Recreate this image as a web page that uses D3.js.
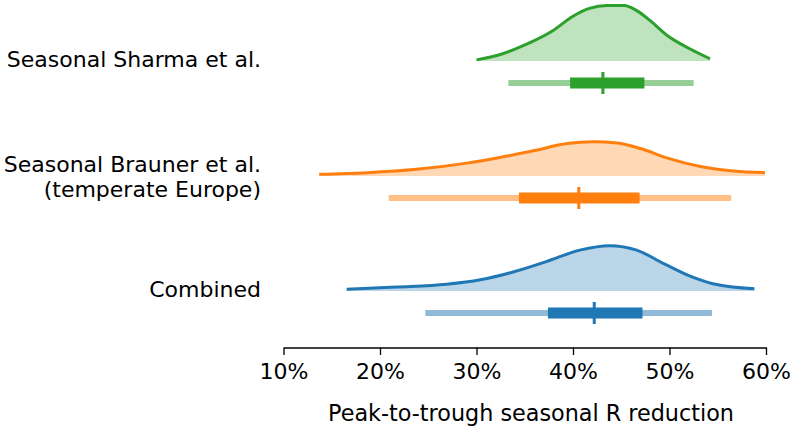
<!DOCTYPE html>
<html><head><meta charset="utf-8">
<script src="https://cdn.jsdelivr.net/npm/d3@7"></script>
<style>body{margin:0;background:#fff}svg{display:block}text{font-family:"DejaVu Sans",sans-serif;fill:#000}</style>
</head><body><svg id="c" width="800" height="428"></svg>
<script>
const groups = ["Seasonal Sharma et al.", "Seasonal Brauner et al.\n(temperate Europe)", "Combined"];
const colors = ["#2ca02c", "#ff7f0e", "#1f77b4"];
const densSharma = [[30.0,0.002],[32.7,0.013],[35.2,0.030],[37.9,0.054],[40.0,0.080],[41.7,0.094],[43.5,0.099],[45.3,0.099],[46.6,0.090],[48.0,0.072],[49.8,0.045],[52.2,0.021],[54.2,0.004]];
const densBrauner = [[13.7,0.003],[18.65,0.006],[23.8,0.012],[29.0,0.023],[32.4,0.033],[35.9,0.045],[39.4,0.058],[42.1,0.061],[44.6,0.059],[47.0,0.049],[49.8,0.032],[53.2,0.017],[56.6,0.009],[59.9,0.006]];
const densCombined = [[16.55,0.003],[21.7,0.007],[26.9,0.012],[30.4,0.020],[33.8,0.034],[37.3,0.053],[40.7,0.073],[43.8,0.081],[46.6,0.073],[49.4,0.049],[52.2,0.026],[54.5,0.013],[58.8,0.004]];
// [whiskerLow, boxLow, median, boxHigh, whiskerHigh]
const statsSharma = [33.3, 39.7, 43.1, 47.4, 52.5];
const statsBrauner = [20.9, 34.4, 40.6, 46.9, 56.4];
const statsCombined = [24.7, 37.4, 42.2, 47.2, 54.4];
const xTicks = [10, 20, 30, 40, 50, 60];
const xLabel = "Peak-to-trough seasonal R reduction";

const dens = [densSharma, densBrauner, densCombined];
const stats = [statsSharma, statsBrauner, statsCombined];

const svg = d3.select("#c");
const x = d3.scaleLinear().domain([10, 60]).range([283.5, 766]);
const h = d3.scaleLinear().domain([0, 0.1]).range([0, 56]);
const base = i => 61 + 115 * i;

dens.forEach((d, i) => {
  const b = base(i);
  const g = svg.append("g");
  const area = d3.area().x(p => x(p[0])).y0(b).y1(p => b - h(p[1])).curve(d3.curveMonotoneX);
  const line = d3.line().x(p => x(p[0])).y(p => b - h(p[1])).curve(d3.curveMonotoneX);
  g.append("path").attr("d", area(d)).attr("fill", colors[i]).attr("fill-opacity", 0.3);
  g.append("path").attr("d", line(d)).attr("fill", "none").attr("stroke", colors[i]).attr("stroke-width", 3);
  const s = stats[i];
  const wy = b + 22;
  g.append("line").attr("x1", x(s[0])).attr("x2", x(s[4])).attr("y1", wy).attr("y2", wy)
    .attr("stroke", colors[i]).attr("stroke-opacity", 0.5).attr("stroke-width", 6);
  g.append("line").attr("x1", x(s[1])).attr("x2", x(s[3])).attr("y1", wy).attr("y2", wy)
    .attr("stroke", colors[i]).attr("stroke-width", 11);
  g.append("line").attr("x1", x(s[2])).attr("x2", x(s[2])).attr("y1", wy - 11).attr("y2", wy + 11)
    .attr("stroke", colors[i]).attr("stroke-width", 3);
});

// labels
const labelY = [67.3, 172.3, 297.3];
groups.forEach((t, i) => {
  const lines = t.split("\n");
  const txt = svg.append("text").attr("text-anchor", "end").attr("font-size", 22);
  lines.forEach((l, j) => txt.append("tspan").attr("x", 261).attr("y", labelY[i] + j * 24.5).text(l));
});

// axis
const ax = svg.append("g").attr("transform", "translate(0,347.5)")
  .call(d3.axisBottom(x).tickValues(xTicks).tickFormat(v => v + "%").tickSize(7.5).tickPadding(8).tickSizeOuter(0));
ax.select(".domain").attr("stroke", "#000").attr("stroke-width", 1.3);
ax.selectAll(".tick line").attr("stroke", "#000").attr("stroke-width", 1.3);
ax.selectAll(".tick text").attr("font-size", 22).attr("font-family", "DejaVu Sans").attr("fill", "#000");
svg.append("text").attr("x", 531).attr("y", 421).attr("text-anchor", "middle").attr("font-size", 22.3).text(xLabel);
</script></body></html>
